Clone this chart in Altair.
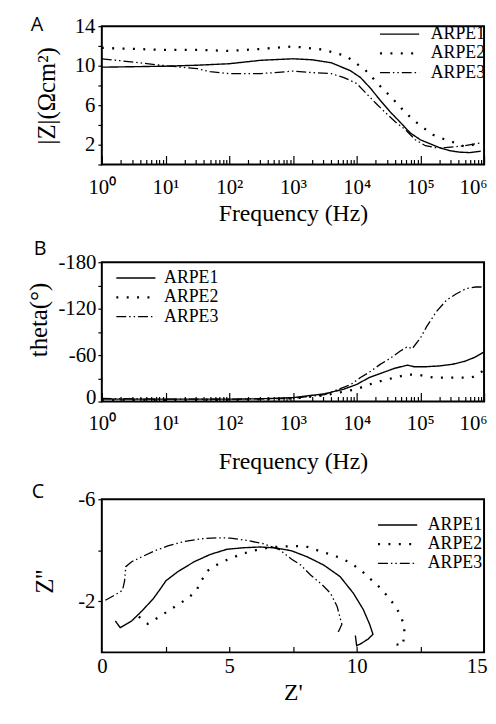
import altair as alt
import pandas as pd

SERIES = ["ARPE1", "ARPE2", "ARPE3"]

# ---------- Panel A: |Z| vs frequency ----------
A1_f = [1, 3.16, 10, 31.6, 100, 316, 1000, 2000, 3980, 7940, 11500, 16600, 23400, 33900,
        47900, 69200, 100000, 141000, 200000, 288000, 407000, 589000, 891000]
A1_z = [9.85, 9.9, 9.95, 10.05, 10.2, 10.55, 10.7, 10.6, 10.3, 9.5, 8.8, 7.7, 6.5, 5.3,
        4.3, 3.2, 2.5, 2.1, 1.7, 1.4, 1.25, 1.2, 1.35]
A2_f = [1, 3.16, 10, 31.6, 100, 316, 1000, 2000, 3160, 4470, 6760, 9550, 13500, 18200,
        24500, 33900, 42700, 57500, 77600, 112000, 158000, 229000, 347000, 501000, 676000, 891000]
A2_z = [11.8, 11.7, 11.6, 11.6, 11.5, 11.7, 11.95, 11.75, 11.6, 11.3, 11.0, 10.3, 9.6, 8.7,
        7.8, 6.9, 6.2, 5.3, 4.5, 3.7, 3.0, 2.6, 2.2, 1.8, 2.0, 2.3]
A3_f = [1, 2, 10, 31.6, 50, 100, 316, 1000, 2000, 3980, 6310, 10000, 14100, 20000, 28800,
        40700, 58900, 83200, 120000, 174000, 245000, 355000, 501000, 891000]
A3_z = [10.7, 10.5, 10.0, 9.7, 9.4, 9.2, 9.2, 9.45, 9.3, 9.2, 8.8, 8.2, 7.2, 6.2, 5.2,
        4.3, 3.5, 2.5, 1.9, 1.7, 1.7, 1.8, 1.9, 2.2]

# ---------- Panel B: theta vs frequency ----------
B1_f = [1, 10, 100, 316, 1000, 3160, 6310, 10000, 15800, 25100, 39800, 63100, 79400,
        126000, 200000, 316000, 501000, 708000, 1000000]
B1_t = [-3, -3, -3, -3.5, -5, -10, -16, -22, -31, -37, -43, -47, -45, -45, -46, -48, -52, -57, -64]
B2_f = [1, 10, 100, 1000, 3160, 10000, 15800, 25100, 39800, 63100, 100000, 158000, 251000,
        398000, 631000, 794000, 1000000]
B2_t = [-2, -2, -2, -4, -8, -16, -22, -27, -31, -35, -34, -31, -31, -31, -31, -34, -41]
B3_f = [1, 10, 100, 1000, 3160, 8130, 11500, 16600, 23400, 33900, 47900, 63100, 74100,
        100000, 126000, 178000, 257000, 363000, 525000, 741000, 1000000]
B3_t = [-4, -3, -3, -4, -9, -22, -31, -39, -48, -56, -65, -71, -68, -82, -97, -116, -131,
        -139, -146, -148, -148]

# ---------- Panel C: Nyquist ----------
C1_re = [0.53, 0.72, 1.17, 1.56, 2.01, 2.27, 2.52, 2.98, 3.62, 4.26, 4.91, 5.55, 6.2, 6.84,
         7.45, 8.07, 8.71, 9.35, 9.87, 10.26, 10.51, 10.64, 10.45, 10.13, 10.0, 9.95]
C1_im = [-1.23, -0.97, -1.23, -1.61, -2.09, -2.45, -2.81, -3.16, -3.55, -3.84, -4.04, -4.10,
         -4.13, -4.09, -3.98, -3.74, -3.42, -2.97, -2.32, -1.68, -1.10, -0.71, -0.52, -0.32,
         -0.26, -0.66]
C2_re = [1.45, 1.8, 2.2, 2.6, 3.0, 3.35, 3.7, 3.9, 4.15, 4.5, 4.9, 5.35, 5.8, 6.25, 6.7,
         7.15, 7.6, 8.07, 8.52, 8.97, 9.42, 9.8, 10.19, 10.51, 10.87, 11.16, 11.44, 11.67,
         11.87, 11.87, 11.8, 11.55]
C2_im = [-1.4, -1.12, -1.36, -1.62, -1.88, -2.1, -2.4, -2.8, -3.2, -3.42, -3.62, -3.8, -3.95,
         -4.05, -4.13, -4.15, -4.17, -4.13, -3.98, -3.84, -3.68, -3.48, -3.2, -2.9, -2.58,
         -2.26, -1.91, -1.55, -1.06, -0.64, -0.26, -0.32]
C3_re = [0.14, 0.53, 0.81, 0.89, 0.94, 1.17, 1.56, 2.07, 2.59, 3.24, 3.88, 4.52, 5.04, 5.68,
         6.33, 6.97, 7.45, 7.81, 8.19, 8.65, 8.97, 9.23, 9.35, 9.42, 9.3, 9.23]
C3_im = [-2.04, -2.26, -2.43, -2.78, -3.36, -3.55, -3.74, -3.98, -4.17, -4.35, -4.45, -4.49,
         -4.48, -4.39, -4.26, -4.03, -3.65, -3.42, -3.03, -2.65, -2.32, -1.81, -1.36, -1.10,
         -0.84, -0.75]

# axis tick values / labels
LOG_MAJOR = [1, 10, 100, 1000, 10000, 100000, 1000000]
LOG_MINOR = [m * 10 ** k for k in range(6) for m in range(2, 10)]
A_YTICKS = [0, 2, 4, 6, 8, 10, 12, 14]
B_YTICKS = [-180, -150, -120, -90, -60, -30, 0]
C_YTICKS = [-6, -4, -2]
C_XTICKS = [2.5, 5, 7.5, 10, 12.5]
C_XLABELS = [0, 5, 10, 15]

DASH_RANGE = [[1, 0], [2, 8.5], [10, 3, 1.5, 3, 1.5, 3]]
WIDTH_RANGE = [1.4, 2.3, 1.3]

SERIF = "Liberation Serif"
W = 387
HA, HB, HC = 140, 141, 155

SUP = "'10' + ['\u2070','\u00b9','\u00b2','\u00b3','\u2074','\u2075','\u2076'][round(log(datum.value)/LN10)]"
LINE_SYMBOL = "M-2.2,0H2.2"


def frame(fs, vs, key, val):
    rows = []
    for s, fl, vl in zip(SERIES, fs, vs):
        for i, (a, b) in enumerate(zip(fl, vl)):
            rows.append({"series": s, key: a, val: b, "i": i})
    return pd.DataFrame(rows)


def legend(lx, ly, off):
    return alt.Legend(title=None, orient="none", legendX=lx, legendY=ly,
                      symbolType=LINE_SYMBOL, symbolSize=324, symbolStrokeColor="black",
                      symbolFillColor="transparent",
                      labelFont=SERIF, labelFontSize=18, labelColor="black",
                      labelOffset=off, rowPadding=0, padding=0)


def style_enc(lx, ly, off):
    lg = legend(lx, ly, off)
    return dict(
        strokeDash=alt.StrokeDash("series:N", scale=alt.Scale(domain=SERIES, range=DASH_RANGE), legend=lg),
        strokeWidth=alt.StrokeWidth("series:N",
                                    scale=alt.Scale(type="ordinal", domain=SERIES, range=WIDTH_RANGE),
                                    legend=lg),
    )


def xaxis(last, **kw):
    # last label kept inside the page: right-aligned at the axis end
    return alt.Axis(labelFont=SERIF, titleFont=SERIF, labelFontSize=21, titleFontSize=24,
                    labelColor="black", titleColor="black", titleFontWeight="normal",
                    grid=False, domain=False, ticks=False, tickSize=0, labelFlush=False,
                    labelOverlap=False, titleBaseline="alphabetic",
                    labelAlign={"condition": {"test": f"datum.value == {last}", "value": "right"},
                                "value": "center"},
                    labelOffset={"condition": {"test": f"datum.value == {last}", "value": 3},
                                 "value": 0},
                    **kw)


def yaxis(**kw):
    return alt.Axis(labelFont=SERIF, titleFont=SERIF, labelFontSize=21, titleFontSize=25,
                    labelColor="black", titleColor="black", titleFontWeight="normal",
                    grid=False, domain=False, ticks=True, tickSize=4, tickColor="black",
                    tickWidth=1.2, labelFlush=False, labelOverlap=False,
                    titleBaseline="bottom", titleAngle=-90, **kw)


def tick_layer(df, xf, xscale, yenc, values, size, H):
    return alt.Chart(df).mark_point(opacity=0).encode(
        x=alt.X(xf, type="quantitative", scale=xscale,
                axis=alt.Axis(orient="top", offset=-H, values=values, labels=False, domain=False,
                              ticks=True, tickSize=size, tickWidth=1.2, tickColor="black",
                              grid=False, title=None)),
        y=yenc,
    )


def letter(t, dx, dy):
    return alt.Chart(pd.DataFrame({"t": [t]})).mark_text(
        font="Open Sans", fontSize=20, align="left", baseline="alphabetic", color="black"
    ).encode(text="t:N", x=alt.value(dx), y=alt.value(dy))


# ---- Panel A ----
dfA = frame([A1_f, A2_f, A3_f], [A1_z, A2_z, A3_z], "f", "z")
xsA = alt.Scale(type="log", domain=[1, 1e6], nice=False)
yA = alt.Y("z:Q", scale=alt.Scale(domain=[0, 14], nice=False, zero=False),
           axis=yaxis(values=A_YTICKS, labelPadding=3,
                      labelExpr="(datum.value - 2) % 4 == 0 ? '' + datum.value : ''",
                      title="|Z|(\u03a9cm\u00b2)", titleX=-43, titleY=HA / 2))
linesA = alt.Chart(dfA).mark_line(color="black", clip=True).encode(
    x=alt.X("f:Q", scale=xsA, axis=xaxis(1000000, values=LOG_MAJOR, labelExpr=SUP, labelPadding=12,
                                         title="Frequency (Hz)", titleY=57)),
    y=yA,
    order="i:Q",
    **style_enc(291, -2, 21),
)
chartA = alt.layer(
    linesA,
    tick_layer(dfA, "f", xsA, yA, LOG_MAJOR, 9, HA),
    tick_layer(dfA, "f", xsA, yA, LOG_MINOR, 5, HA),
    letter("A", -72, 5),
).resolve_axis(x="independent").properties(width=W, height=HA)

# ---- Panel B ----
dfB = frame([B1_f, B2_f, B3_f], [B1_t, B2_t, B3_t], "f", "t")
xsB = alt.Scale(type="log", domain=[1, 1e6], nice=False)
yB = alt.Y("t:Q", scale=alt.Scale(domain=[-180, 0], reverse=True, nice=False, zero=False),
           axis=yaxis(values=B_YTICKS, labelPadding=2,
                      labelExpr="datum.value % 60 == 0 ? '' + datum.value : ''",
                      labelOffset={"condition": {"test": "datum.value == 0", "value": -4},
                                   "value": 0},
                      title="theta(\u00b0)", titleX=-51, titleY=58))
linesB = alt.Chart(dfB).mark_line(color="black", clip=True).encode(
    x=alt.X("f:Q", scale=xsB, axis=xaxis(1000000, values=LOG_MAJOR, labelExpr=SUP, labelPadding=11,
                                         title="Frequency (Hz)", titleY=68)),
    y=yB,
    order="i:Q",
    **style_enc(24, 6, 18),
)
chartB = alt.layer(
    linesB,
    tick_layer(dfB, "f", xsB, yB, LOG_MAJOR, 9, HB),
    tick_layer(dfB, "f", xsB, yB, LOG_MINOR, 5, HB),
    letter("B", -69, -7),
).resolve_axis(x="independent").properties(width=W, height=HB)

# ---- Panel C ----
dfC = frame([C1_re, C2_re, C3_re], [C1_im, C2_im, C3_im], "re", "im")
xsC = alt.Scale(domain=[0, 15], nice=False, zero=False)
yC = alt.Y("im:Q", scale=alt.Scale(domain=[-6, 0], reverse=True, nice=False, zero=False),
           axis=yaxis(values=C_YTICKS, labelPadding=3,
                      labelExpr="datum.value == -4 ? '' : '' + datum.value",
                      title="Z''", titleX=-45, titleY=83))
linesC = alt.Chart(dfC).mark_line(color="black", clip=True).encode(
    x=alt.X("re:Q", scale=xsC, axis=xaxis(15, values=C_XLABELS, labelPadding=3,
                                          title="Z'", titleY=48)),
    y=yC,
    order="i:Q",
    **style_enc(289, 16, 20),
)
chartC = alt.layer(
    linesC,
    tick_layer(dfC, "re", xsC, yC, C_XTICKS, 6, HC),
    letter("C", -71, -1),
).resolve_axis(x="independent").properties(width=W, height=HC)

chart = alt.vconcat(chartA, chartB, chartC, spacing=99, bounds="flush").resolve_scale(
    strokeDash="independent", strokeWidth="independent"
).properties(
    padding={"left": 18, "top": 2, "right": 0, "bottom": 5}
).configure_view(stroke="black", strokeWidth=2)

chart.save("out.html", embed_options={"renderer": "svg", "actions": False})
